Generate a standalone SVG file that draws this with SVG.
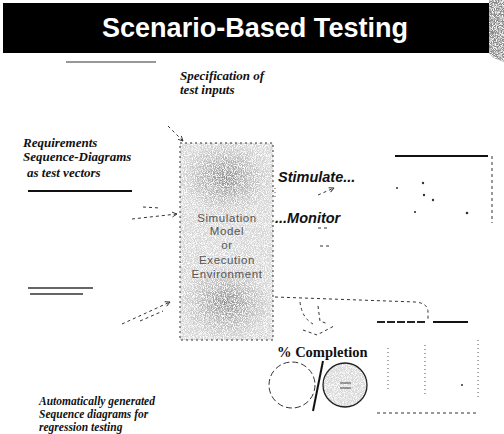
<svg xmlns="http://www.w3.org/2000/svg" width="504" height="434" viewBox="0 0 504 434">
<defs>
<style>
.lbl{font-family:"Liberation Serif","Times New Roman",serif;font-weight:bold;font-style:italic;font-size:13px;fill:#111}
.lbs{font-family:"Liberation Serif","Times New Roman",serif;font-weight:bold;font-style:italic;font-size:11.5px;fill:#111}
.act{font-family:"Liberation Sans",Arial,sans-serif;font-weight:bold;font-style:italic;font-size:14.5px;fill:#111}
.mdl{font-family:"Liberation Sans",Arial,sans-serif;font-size:11.5px;fill:#555;text-anchor:middle;letter-spacing:0.6px}
.dash{fill:none;stroke:#333;stroke-width:1;stroke-dasharray:3 3}
.dot{fill:none;stroke:#555;stroke-width:1;stroke-dasharray:1 3}
.thick{fill:none;stroke:#111;stroke-width:2}
.spk{fill:#333}
</style>
<marker id="ah" viewBox="0 0 10 10" refX="9" refY="5" markerWidth="6" markerHeight="6" orient="auto"><path d="M1,1 L9,5 L1,9" fill="none" stroke="#333" stroke-width="1.5"/></marker>
<filter id="grain" x="0" y="0" width="1" height="1">
<feTurbulence type="fractalNoise" baseFrequency="1.1" numOctaves="1" seed="4" result="n"/>
<feColorMatrix in="n" type="matrix" values="0 0 0 0 1  0 0 0 0 1  0 0 0 0 1  4 0 0 0 -1.7" result="w"/>
<feComposite in="w" in2="SourceAlpha" operator="in" result="w2"/>
<feMerge><feMergeNode in="SourceGraphic"/><feMergeNode in="w2"/></feMerge>
</filter>
<radialGradient id="blob"><stop offset="0" stop-color="#777" stop-opacity="0.8"/><stop offset="1" stop-color="#999" stop-opacity="0"/></radialGradient>
</defs>

<g id="title">
<rect x="3" y="3" width="490" height="50" fill="#000"/>
<g filter="url(#grain)"><polygon points="489,0 504,0 504,62 494,58 489,53" fill="#888"/></g>
<text x="255" y="37" text-anchor="middle" textLength="306" lengthAdjust="spacingAndGlyphs" font-family="'Liberation Sans',Arial,sans-serif" font-weight="bold" font-size="28" fill="#fff">Scenario-Based Testing</text>
<line x1="66" y1="62" x2="156" y2="62" stroke="#333" stroke-width="1.2"/>
</g>

<g id="node-spec">
<text class="lbl" x="180" y="80">Specification of</text>
<text class="lbl" x="180" y="94">test inputs</text>
</g>

<g id="node-requirements">
<text class="lbl" x="23" y="147">Requirements</text>
<text class="lbl" x="23" y="161">Sequence-Diagrams</text>
<text class="lbl" x="27" y="177">as test vectors</text>
<line x1="28" y1="191" x2="132" y2="191" stroke="#111" stroke-width="1.8"/>
</g>

<g id="node-model">
<g filter="url(#grain)">
<rect x="180" y="143" width="93" height="197" fill="#d6d6d6"/>
<ellipse cx="226" cy="178" rx="46" ry="38" fill="url(#blob)"/>
<ellipse cx="226" cy="303" rx="46" ry="38" fill="url(#blob)"/>
</g>
<rect x="180" y="143" width="93" height="197" fill="none" stroke="#333" stroke-dasharray="2 3"/>
<text class="mdl" x="227" y="222">Simulation</text>
<text class="mdl" x="227" y="235">Model</text>
<text class="mdl" x="227" y="249">or</text>
<text class="mdl" x="227" y="264">Execution</text>
<text class="mdl" x="227" y="278">Environment</text>
</g>

<g id="node-stimulate"><text class="act" x="278" y="182">Stimulate...</text></g>
<g id="node-monitor"><text class="act" x="275" y="223">...Monitor</text></g>

<g id="node-seq-top">
<line x1="395" y1="156" x2="488" y2="156" class="thick"/>
<line x1="492" y1="156" x2="492" y2="223" class="dash"/>
<circle class="spk" cx="397" cy="188" r="1"/>
<circle class="spk" cx="423" cy="183" r="1.2"/>
<circle class="spk" cx="424" cy="195" r="1.2"/>
<circle class="spk" cx="433" cy="200" r="1.2"/>
<circle class="spk" cx="415" cy="212" r="1.1"/>
<circle class="spk" cx="467" cy="213" r="1.3"/>
</g>

<g id="node-seq-left">
<line x1="28" y1="288" x2="93" y2="288" stroke="#333" stroke-width="1.3"/>
<line x1="30" y1="294" x2="83" y2="294" stroke="#333" stroke-width="1.3"/>
</g>

<g id="node-auto">
<text class="lbs" x="39" y="405">Automatically generated</text>
<text class="lbs" x="39" y="418">Sequence diagrams for</text>
<text class="lbs" x="39" y="431">regression testing</text>
</g>

<g id="node-completion">
<text x="277" y="357" font-family="'Liberation Serif','Times New Roman',serif" font-weight="bold" font-size="14.5" fill="#111">% Completion</text>
<circle cx="292" cy="385" r="23" fill="none" stroke="#333" stroke-dasharray="6 3"/>
<g filter="url(#grain)"><circle cx="345" cy="385" r="22" fill="#d8d8d8"/></g>
<circle cx="345" cy="385" r="22" fill="none" stroke="#222" stroke-width="1.3"/>
<line x1="340" y1="383" x2="351" y2="383" stroke="#444"/>
<line x1="340" y1="388" x2="351" y2="388" stroke="#444"/>
<line x1="323" y1="361" x2="313" y2="411" stroke="#111" stroke-width="2"/>
</g>

<g id="node-seq-bottom">
<line x1="377" y1="322" x2="426" y2="322" stroke="#222" stroke-width="2" stroke-dasharray="8 2"/>
<line x1="433" y1="322" x2="468" y2="322" class="thick"/>
<line x1="478" y1="340" x2="478" y2="400" class="dot"/>
<line x1="377" y1="413" x2="478" y2="413" class="dash"/>
<line x1="388" y1="348" x2="388" y2="392" class="dot"/>
<line x1="425" y1="345" x2="425" y2="395" class="dot"/>
<circle class="spk" cx="462" cy="385" r="1"/>
</g>

<g id="connectors">
<line x1="168" y1="126" x2="183" y2="141" class="dash" marker-end="url(#ah)"/>
<line x1="132" y1="219" x2="177" y2="214" class="dash" marker-end="url(#ah)"/>
<line x1="143" y1="207" x2="160" y2="208" class="dash"/>
<line x1="122" y1="324" x2="170" y2="302" class="dash" marker-end="url(#ah)"/>
<line x1="140" y1="321" x2="163" y2="311" class="dash"/>
<line x1="275" y1="188" x2="275" y2="197" class="dot"/>
<line x1="318" y1="195" x2="334" y2="188" class="dash" marker-end="url(#ah)"/>
<line x1="318" y1="228" x2="330" y2="228" class="dash"/>
<line x1="320" y1="246" x2="332" y2="246" class="dash"/>
<path d="M275,297 L415,302 Q428,303 428,312 L428,320" class="dash"/>
<path d="M300,302 Q302,318 313,324" class="dash"/>
<path d="M318,306 L320,321 L328,324" class="dash"/>
<path d="M303,330 L317,335 L334,326" class="dash"/>
</g>
</svg>
